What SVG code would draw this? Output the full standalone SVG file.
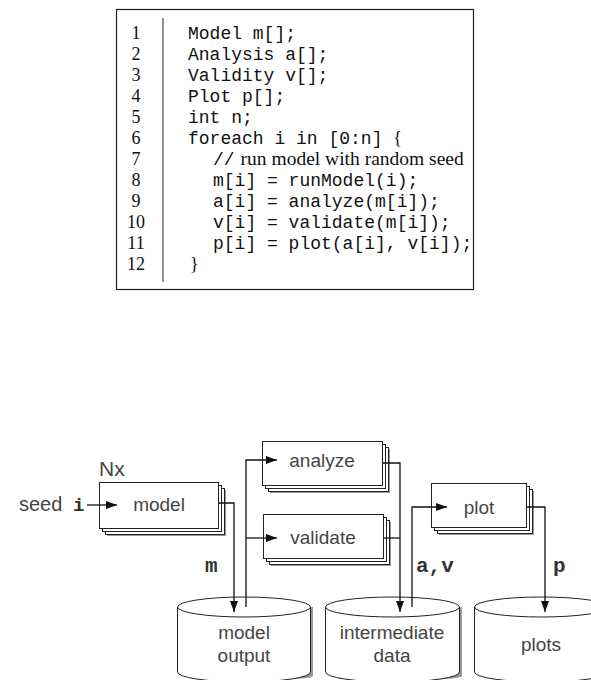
<svg xmlns="http://www.w3.org/2000/svg" width="591" height="680" viewBox="0 0 591 680">
<style>
.num{font-family:"Liberation Serif",serif;font-size:18px;fill:#111;text-anchor:middle}
.code{font-family:"Liberation Mono",monospace;font-size:18px;fill:#111;white-space:pre}
.rom{font-family:"Liberation Serif",serif;font-size:18px;fill:#111}
.cmt{font-family:"Liberation Serif",serif;font-size:19.5px;fill:#111}
.lbl{font-family:"Liberation Sans",Arial,sans-serif;font-size:19px;fill:#444;text-anchor:middle}
.bold{font-family:"Liberation Mono",monospace;font-size:21px;font-weight:bold;fill:#333}
.box{fill:#fff;stroke:#222;stroke-width:1}
.shadow{fill:#999}
.conn{fill:none;stroke:#111;stroke-width:1.3}
.cyl{fill:#fff;stroke:#222;stroke-width:1}
</style>
<defs>
<marker id="arr" markerUnits="userSpaceOnUse" markerWidth="12" markerHeight="10" refX="11" refY="5" orient="auto">
<path d="M0,1 L11,5 L0,9 z" fill="#111"/>
</marker>
</defs>

<g id="code-listing">
<rect x="116.5" y="9.5" width="357" height="280" fill="#fff" stroke="#222" stroke-width="1.2"/>
<line x1="163" y1="18" x2="163" y2="282" stroke="#222" stroke-width="1"/>
<text class="num" x="136" y="39">1</text>
<text class="num" x="136" y="60">2</text>
<text class="num" x="136" y="81">3</text>
<text class="num" x="136" y="102">4</text>
<text class="num" x="136" y="123">5</text>
<text class="num" x="136" y="144">6</text>
<text class="num" x="136" y="165">7</text>
<text class="num" x="136" y="186">8</text>
<text class="num" x="136" y="207">9</text>
<text class="num" x="136" y="228">10</text>
<text class="num" x="136" y="249">11</text>
<text class="num" x="136" y="270">12</text>
<text class="code" x="188" y="39">Model m[];</text>
<text class="code" x="188" y="60">Analysis a[];</text>
<text class="code" x="188" y="81">Validity v[];</text>
<text class="code" x="188" y="102">Plot p[];</text>
<text class="code" x="188" y="123">int n;</text>
<text x="188" y="144"><tspan class="code">foreach i in [0:n] </tspan><tspan class="rom">{</tspan></text>
<text x="213" y="165"><tspan class="code">//</tspan><tspan class="cmt" dx="6">run model with random seed</tspan></text>
<text class="code" x="213" y="186">m[i] = runModel(i);</text>
<text class="code" x="213" y="207">a[i] = analyze(m[i]);</text>
<text class="code" x="213" y="228">v[i] = validate(m[i]);</text>
<text class="code" x="213" y="249">p[i] = plot(a[i], v[i]);</text>
<text class="rom" x="190" y="270">}</text>
</g>

<g id="model">
<text x="99" y="476" font-family="Liberation Sans,Arial,sans-serif" font-size="21" fill="#444">Nx</text>
<rect class="shadow" x="107" y="490" width="119" height="46"/>
<rect class="box" x="105.5" y="488.5" width="119" height="46"/>
<rect class="box" x="102.5" y="485.5" width="119" height="46"/>
<rect class="box" x="99.5" y="482.5" width="119" height="46"/>
<text class="lbl" x="159" y="511">model</text>
</g>

<g id="analyze">
<rect class="shadow" x="270" y="449" width="120" height="44"/>
<rect class="box" x="268.5" y="447.5" width="120" height="44"/>
<rect class="box" x="265.5" y="444.5" width="120" height="44"/>
<rect class="box" x="262.5" y="441.5" width="120" height="44"/>
<text class="lbl" x="322" y="467">analyze</text>
</g>

<g id="validate">
<rect class="shadow" x="271" y="522" width="120" height="44"/>
<rect class="box" x="269.5" y="520.5" width="120" height="44"/>
<rect class="box" x="266.5" y="517.5" width="120" height="44"/>
<rect class="box" x="263.5" y="514.5" width="120" height="44"/>
<text class="lbl" x="323" y="544">validate</text>
</g>

<g id="plot">
<rect class="shadow" x="439" y="491" width="95" height="44"/>
<rect class="box" x="437.5" y="489.5" width="95" height="44"/>
<rect class="box" x="434.5" y="486.5" width="95" height="44"/>
<rect class="box" x="431.5" y="483.5" width="95" height="44"/>
<text class="lbl" x="479" y="514">plot</text>
</g>

<g id="model-output">
<path class="shadow" d="M311,607 L313,607 L313,676 Q313,680 244,680 L244,677 Q311,677 311,670 z"/>
<path class="cyl" d="M177.5,607 L177.5,672 A66.5,10 0 0 0 310.5,672 L310.5,607"/>
<ellipse class="cyl" cx="244" cy="607" rx="66.5" ry="10"/>
<text class="lbl" x="244" y="639">model</text>
<text class="lbl" x="244" y="662">output</text>
</g>

<g id="intermediate-data">
<path class="shadow" d="M460,607 L462,607 L462,676 Q462,680 393,680 L393,677 Q460,677 460,670 z"/>
<path class="cyl" d="M325.5,607 L325.5,672 A67,10 0 0 0 459.5,672 L459.5,607"/>
<ellipse class="cyl" cx="392.5" cy="607" rx="67" ry="10"/>
<text class="lbl" x="392" y="639">intermediate</text>
<text class="lbl" x="392" y="662">data</text>
</g>

<g id="plots">
<path class="cyl" d="M474.5,607 L474.5,672 A67,10 0 0 0 608.5,672 L608.5,607"/>
<ellipse class="cyl" cx="541.5" cy="607" rx="67" ry="10"/>
<text class="lbl" x="541" y="651">plots</text>
</g>

<g id="connectors">
<text x="19" y="511" font-family="Liberation Sans,Arial,sans-serif" font-size="20" fill="#444">seed</text>
<text x="73" y="511" font-family="Liberation Mono,monospace" font-size="19" font-weight="bold" fill="#333">i</text>
<line class="conn" x1="87" y1="505" x2="117" y2="505" marker-end="url(#arr)"/>
<polyline class="conn" points="219,503 234,503 234,612" marker-end="url(#arr)"/>
<text class="bold" x="205" y="572">m</text>
<polyline class="conn" points="246,607 246,460 277,460" marker-end="url(#arr)"/>
<polyline class="conn" points="246,538 277,538" marker-end="url(#arr)"/>
<polyline class="conn" points="383,463 400,463 400,612" marker-end="url(#arr)"/>
<line class="conn" x1="384" y1="538" x2="400" y2="538"/>
<text class="bold" x="416" y="572">a,v</text>
<polyline class="conn" points="412,607 412,507 447,507" marker-end="url(#arr)"/>
<polyline class="conn" points="527,507 545,507 545,612" marker-end="url(#arr)"/>
<text class="bold" x="553" y="572">p</text>
</g>
</svg>
